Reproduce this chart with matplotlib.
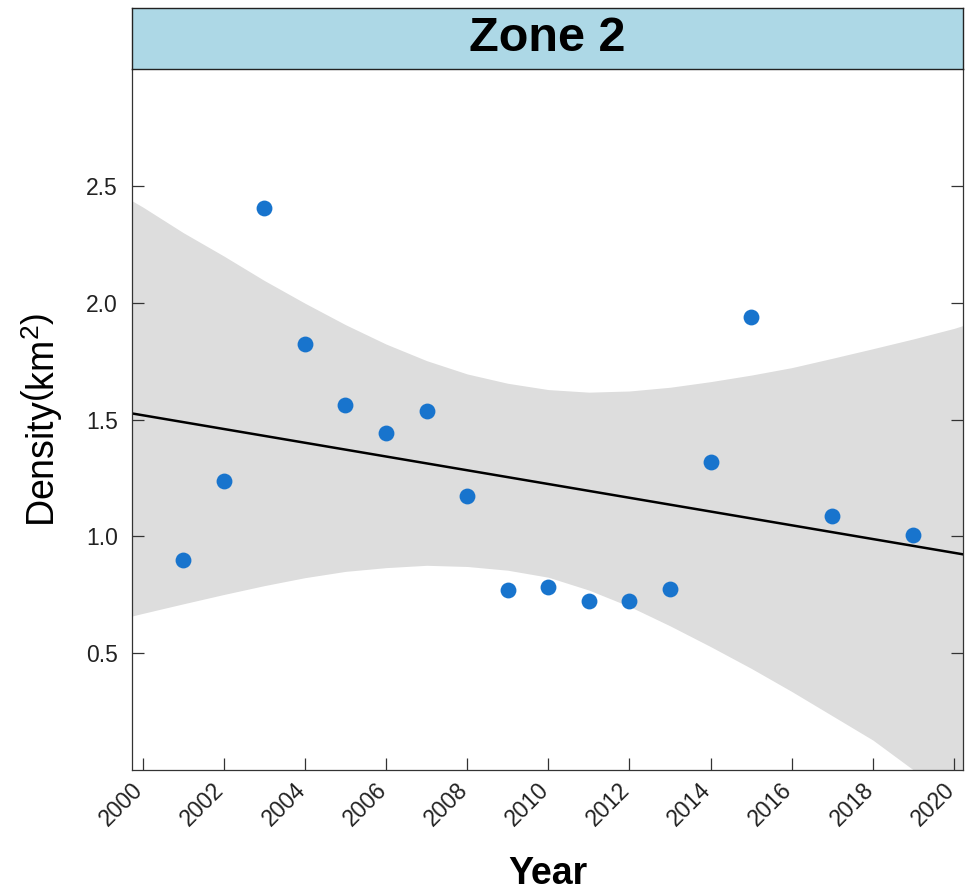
import matplotlib
matplotlib.use('Agg')
import matplotlib.pyplot as plt
import matplotlib.transforms as mtransforms

plt.rcParams['font.family'] = ['Liberation Sans', 'DejaVu Sans']
plt.rcParams['mathtext.fontset'] = 'custom'
plt.rcParams['mathtext.rm'] = 'Liberation Sans'
plt.rcParams['mathtext.it'] = 'Liberation Sans:italic'
plt.rcParams['mathtext.bf'] = 'Liberation Sans:bold'

# observed densities
years = [2001, 2002, 2003, 2004, 2005, 2006, 2007, 2008, 2009, 2010,
         2011, 2012, 2013, 2014, 2015, 2017, 2019]
density = [0.90, 1.235, 2.406, 1.825, 1.564, 1.444, 1.538, 1.171, 0.769, 0.782,
           0.722, 0.722, 0.774, 1.32, 1.94, 1.085, 1.004]

# fitted trend (end points)
fit_years = [1999.74, 2020.22]
fit_vals = [1.526, 0.923]

# confidence band
band_years = [1999.74, 2000, 2001, 2002, 2003, 2004, 2005, 2006, 2007, 2008, 2009,
              2010, 2011, 2012, 2013, 2014, 2015, 2016, 2017, 2018, 2019, 2020, 2020.22]
band_upper = [2.436, 2.41, 2.30, 2.20, 2.095, 1.998, 1.906, 1.823, 1.752, 1.695, 1.655,
              1.628, 1.617, 1.622, 1.638, 1.662, 1.690, 1.722, 1.762, 1.803, 1.845, 1.89, 1.902]
band_lower = [0.659, 0.670, 0.711, 0.751, 0.789, 0.823, 0.850, 0.866, 0.876, 0.871, 0.855,
              0.825, 0.770, 0.700, 0.617, 0.528, 0.435, 0.336, 0.232, 0.128, 0.0, -0.13, -0.16]

xticks = list(range(2000, 2021, 2))
yticks = [0.5, 1.0, 1.5, 2.0, 2.5]

fig = plt.figure(figsize=(9.65, 8.92), dpi=100)
ax = fig.add_axes([132 / 965, 1 - 770 / 892, 831 / 965, 701 / 892])

ax.fill_between(band_years, band_lower, band_upper, color='#DDDDDD', lw=0, zorder=1)
ax.plot(fit_years, fit_vals, color='black', lw=1.8, zorder=2)
ax.scatter(years, density, s=130, color='#1874CD', lw=0, zorder=3)

ax.set_xlim(1999.74, 2020.22)
ax.set_ylim(0, 3.0)
ax.set_xticks(xticks)
ax.set_yticks(yticks)
ax.set_xticklabels([str(t) for t in xticks], rotation=45, ha='right', va='top')
ax.set_yticklabels(['%.1f' % t for t in yticks])
ax.tick_params(direction='in', length=8.5, width=0.9, color='#333333',
               labelsize=16.5, labelcolor='#222222', pad=10)
ax.tick_params(axis='y', right=True)
ax.tick_params(axis='x', pad=6)
shift = mtransforms.ScaledTranslation(5 / 100, 0, fig.dpi_scale_trans)
for lab in ax.get_xticklabels():
    lab.set_transform(lab.get_transform() + shift)
for sp in ax.spines.values():
    sp.set_color('#333333')
    sp.set_linewidth(0.9)
ax.spines['top'].set_visible(False)

ax.set_xlabel('Year', fontsize=27, fontweight='bold', labelpad=18)
ax.set_ylabel(r'Density$\left(\mathrm{km}^2\right)$', fontsize=27, labelpad=15)

# facet strip
strip = fig.add_axes([132 / 965, 1 - 69 / 892, 831 / 965, 61 / 892])
strip.set_xticks([])
strip.set_yticks([])
strip.set_facecolor('#ADD8E6')
for sp in strip.spines.values():
    sp.set_color('#222222')
    sp.set_linewidth(1.0)
strip.text(0.5, 0.5, 'Zone 2', ha='center', va='center', fontsize=35,
           fontweight='bold', transform=strip.transAxes)

fig.savefig('out.png', dpi=100)
